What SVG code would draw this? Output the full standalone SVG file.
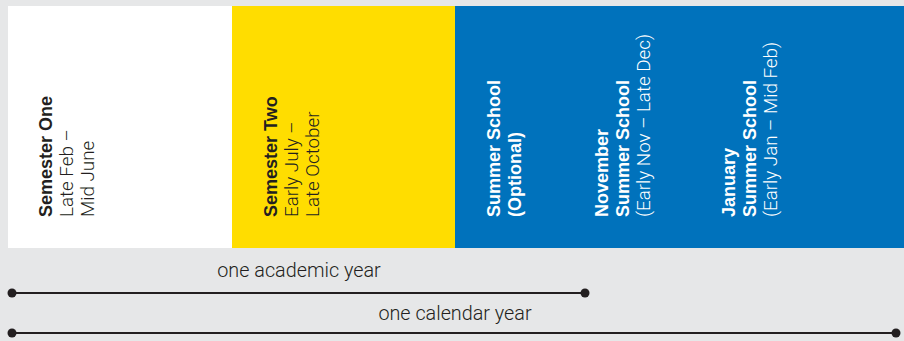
<svg xmlns="http://www.w3.org/2000/svg" width="904" height="341" viewBox="0 0 904 341">
<style>
.b{font-family:"Liberation Sans",Arial,sans-serif;font-weight:700;font-size:18px}
.l{font-family:"Roboto","Liberation Sans",sans-serif;font-weight:300;font-size:18.8px}
.dk{fill:#231f20}
.wh{fill:#ffffff}
.cap{font-family:"Roboto","Liberation Sans",sans-serif;font-weight:300;font-size:19.8px;fill:#231f20;text-anchor:middle}
.ln{stroke:#231f20;stroke-width:2}
</style>
<rect width="904" height="341" fill="#e6e7e8"/>
<g id="semester-one">
<rect x="8" y="6" width="224" height="242" fill="#ffffff"/>
<text class="b dk" transform="translate(52,217) rotate(-90)">Semester One</text>
<text class="l dk" transform="translate(73,217) rotate(-90)">Late Feb –</text>
<text class="l dk" transform="translate(94,217) rotate(-90)">Mid June</text>
</g>
<g id="semester-two">
<rect x="232" y="6" width="223" height="242" fill="#ffdd00"/>
<text class="b dk" transform="translate(277,217) rotate(-90)">Semester Two</text>
<text class="l dk" transform="translate(298,217) rotate(-90)">Early July –</text>
<text class="l dk" transform="translate(319,217) rotate(-90)">Late October</text>
</g>
<g id="summer-school">
<rect x="455" y="6" width="449" height="242" fill="#0072bc"/>
<text class="b wh" transform="translate(500,217) rotate(-90)">Summer School</text>
<text class="b wh" transform="translate(521,217) rotate(-90)">(Optional)</text>
</g>
<g id="november">
<text class="b wh" transform="translate(608,217) rotate(-90)">November</text>
<text class="b wh" transform="translate(629,217) rotate(-90)">Summer School</text>
<text class="l wh" transform="translate(650,217) rotate(-90)">(Early Nov – Late Dec)</text>
</g>
<g id="january">
<text class="b wh" transform="translate(735,217) rotate(-90)">January</text>
<text class="b wh" transform="translate(756,217) rotate(-90)">Summer School</text>
<text class="l wh" transform="translate(777,217) rotate(-90)">(Early Jan – Mid Feb)</text>
</g>
<g id="connectors">
<line class="ln" x1="12" y1="293" x2="585" y2="293"/>
<circle cx="12" cy="293" r="4.5" fill="#231f20"/>
<circle cx="585" cy="293" r="4.5" fill="#231f20"/>
<line class="ln" x1="12" y1="333" x2="896" y2="333"/>
<circle cx="12" cy="333" r="4.5" fill="#231f20"/>
<circle cx="896" cy="333" r="4.5" fill="#231f20"/>
</g>
<text class="cap" x="299" y="277">one academic year</text>
<text class="cap" x="455" y="320">one calendar year</text>
</svg>
